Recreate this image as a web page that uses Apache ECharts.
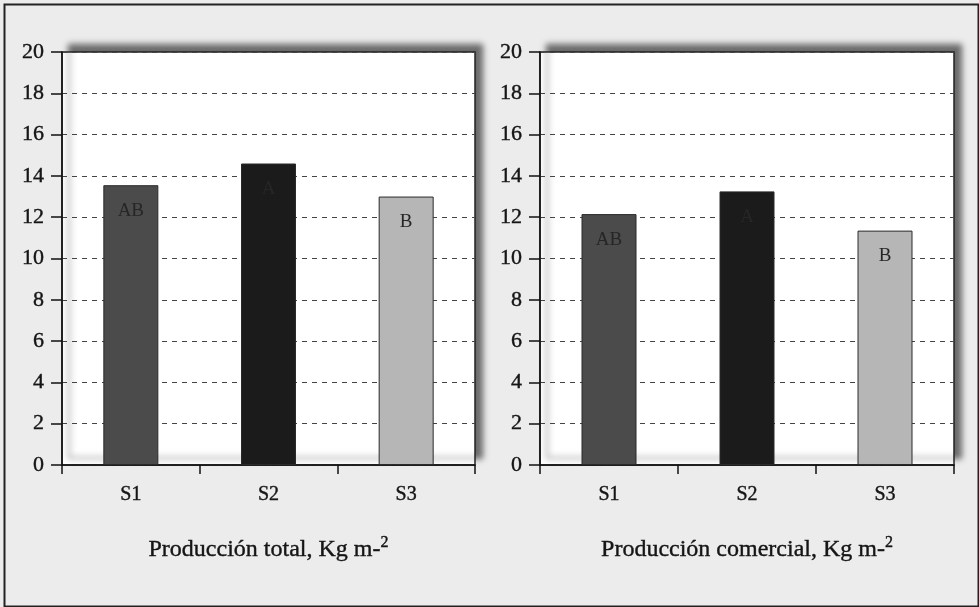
<!DOCTYPE html>
<html>
<head>
<meta charset="utf-8">
<script src="https://cdn.jsdelivr.net/npm/echarts@6/dist/echarts.min.js"></script>
<style>
html,body{margin:0;padding:0;background:#ececec;}
#c{width:979px;height:607px;}
</style>
</head>
<body>
<div id="c"></div>
<script>
// ---- data ----
var categories = ['S1', 'S2', 'S3'];
var totalValues = [13.55, 14.6, 13.0];
var commercialValues = [12.15, 13.25, 11.35];
var totalLetters = ['AB', 'A', 'B'];
var commercialLetters = ['AB', 'A', 'B'];
var titleTotal = 'Producción total, Kg m-';
var titleCommercial = 'Producción comercial, Kg m-';
var titleSup = '2';
var yMin = 0, yMax = 20, yStep = 2;

// ---- styles ----
var barColors = ['#4b4b4b', '#1b1b1b', '#b6b6b6'];
var FONT = '"Liberation Serif", "Times New Roman", serif';
var INK = '#151515';
var thick = { textBorderColor: INK, textBorderWidth: 0.4 };

function makeData(vals, letters) {
  return vals.map(function (v, i) {
    return {
      value: v,
      itemStyle: { color: barColors[i], borderColor: '#2a2a2a', borderWidth: 1 },
      label: { formatter: letters[i] }
    };
  });
}

function gridDef(left, right) {
  return {
    left: left, right: right, top: 52, bottom: 142,
    show: true, backgroundColor: '#ffffff',
    borderColor: '#222', borderWidth: 1.5,
    shadowColor: 'rgba(0,0,0,0.55)', shadowBlur: 6,
    shadowOffsetX: 7, shadowOffsetY: -7
  };
}

function xAxisDef(idx, name) {
  return {
    type: 'category', gridIndex: idx, data: categories,
    axisLine: { lineStyle: { color: '#111', width: 1.5 } },
    axisTick: { show: true, length: 9, inside: false, alignWithLabel: false, lineStyle: { color: '#111', width: 1.5 } },
    axisLabel: Object.assign({ color: INK, fontFamily: FONT, fontSize: 20, margin: 20 }, thick),
    name: '{a|' + name + '}{s|' + titleSup + '}',
    nameLocation: 'middle', nameGap: 70,
    nameTextStyle: {
      rich: {
        a: Object.assign({ fontFamily: FONT, fontSize: 24, color: INK }, thick),
        s: Object.assign({ fontFamily: FONT, fontSize: 16, color: INK, padding: [0, 0, 13, 0] }, thick)
      }
    }
  };
}

function yAxisDef(idx) {
  return {
    type: 'value', gridIndex: idx, min: yMin, max: yMax, interval: yStep,
    axisLine: { show: true, lineStyle: { color: '#111', width: 1.5 } },
    axisTick: { show: true, length: 11, lineStyle: { color: '#111', width: 1.5 } },
    axisLabel: Object.assign({ color: INK, fontFamily: FONT, fontSize: 22, margin: 18 }, thick),
    splitLine: { show: true, lineStyle: { color: '#444', width: 1, type: [5, 5] } }
  };
}

function seriesDef(idx, vals, letters) {
  return {
    type: 'bar', xAxisIndex: idx, yAxisIndex: idx,
    barWidth: 55,
    data: makeData(vals, letters),
    label: {
      show: true, position: 'insideTop', distance: 16,
      color: '#262626', fontFamily: FONT, fontSize: 19
    },
    z: 3
  };
}

var chart = echarts.init(document.getElementById('c'), null, { renderer: 'canvas' });
chart.setOption({
  animation: false,
  backgroundColor: '#ececec',
  graphic: [{
    type: 'rect', left: 2, top: 2, z: 100, silent: true,
    shape: { width: 974, height: 602 },
    style: { fill: 'none', stroke: '#222', lineWidth: 2 }
  }],
  grid: [gridDef(62, 504), gridDef(540, 25)],
  xAxis: [xAxisDef(0, titleTotal), xAxisDef(1, titleCommercial)],
  yAxis: [yAxisDef(0), yAxisDef(1)],
  series: [seriesDef(0, totalValues, totalLetters), seriesDef(1, commercialValues, commercialLetters)]
});
</script>
</body>
</html>
